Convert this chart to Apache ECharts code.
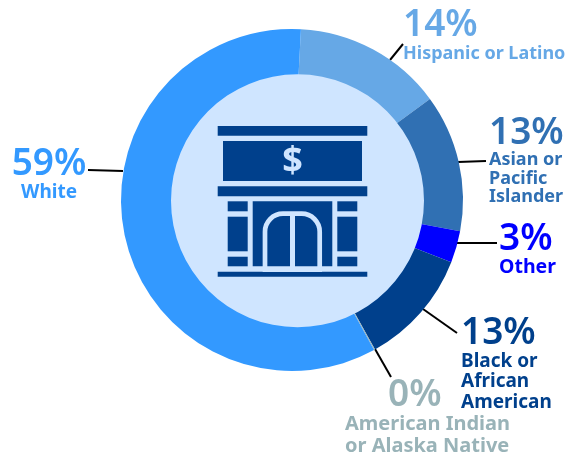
<!DOCTYPE html>
<html>
<head>
<meta charset="utf-8">
<style>
html,body{margin:0;padding:0;background:#fff;}
#chart{width:571px;height:455px;}
</style>
<script src="https://cdn.jsdelivr.net/npm/echarts@6/dist/echarts.min.js"></script>
</head>
<body>
<div id="chart"></div>
<script>
// slice sizes as drawn, these do not quite follow the printed percents
const categories=["Hispanic or Latino","Asian or\nPacific\nIslander","Other","Black or\nAfrican\nAmerican","American Indian\nor Alaska Native","White"];
const sliceValues=[14.1,13,3,11,0.1,58.8];
const printedPercents=["14%","13%","3%","13%","0%","59%"];
const colors=["#66a8e6","#3070b3","#0000ff","#00408c","#99b3b8","#3399ff"];

// label anchor, leader line and text spacing per slice
const labelSpots=[
    {x:403,y:7,align:"left",size:18,gap:21,indent:0,line:[[390,60],[403,44]]},
    {x:489,y:115,align:"left",size:18,gap:18.5,indent:0,line:[[458,162],[486,161]]},
    {x:499,y:221,align:"left",size:19.5,gap:20,indent:0,line:[[457,243],[497,243]]},
    {x:461,y:315,align:"left",size:19,gap:20.5,indent:0,line:[[423,309],[457,333]]},
    {x:345,y:377,align:"left",size:20,gap:22,indent:43,line:[[375,349],[391,377]]},
    {x:49,y:146,align:"center",size:19,gap:21,indent:0,line:[[123,171],[88,170]]}
];

const ICON="#00408c";
const PALE="#cfe5ff";

function box(x,y,width,height){
    return {type:"rect",shape:{x,y,width,height},style:{fill:ICON},z:20};
}

function labelRich(color,spot){
    return {
        p:{fontSize:37,fontWeight:600,lineHeight:36,color,padding:[0,0,0,spot.indent]},
        n:{fontSize:spot.size,fontWeight:700,lineHeight:spot.gap,color}
    };
}

const chart=echarts.init(document.getElementById("chart"));

chart.setOption({
    backgroundColor:"#ffffff",
    animation:false,
    textStyle:{fontFamily:"Noto Sans"},
    graphic:[
        box(217.7,126,149.6,9.7),
        box(223,141,139,40),
        box(217.7,186.3,149.6,10),
        box(227.7,201.3,20,10),
        box(227.7,216.7,20,34.6),
        box(227.7,256.7,20,9.6),
        box(337.3,201.3,20,10),
        box(337.3,216.7,20,34.6),
        box(337.3,256.7,20,9.6),
        box(252.7,201.3,79.6,65),
        box(217.7,271.7,149.6,5),
        {
            type:"rect",
            shape:{x:265,y:213.7,width:54.7,height:56,r:[18,18,0,0]},
            style:{fill:"none",stroke:PALE,lineWidth:4.7},
            z:21
        },
        {type:"rect",shape:{x:290,y:213,width:5,height:54},style:{fill:PALE},z:21},
        {
            type:"text",
            x:292.5,
            y:161.5,
            style:{text:"$",fontFamily:"Noto Sans",fontSize:36,fontWeight:700,fill:PALE,align:"center",verticalAlign:"middle"},
            z:21
        }
    ],
    series:[
        {
            type:"pie",
            center:[292,200],
            radius:[100,171],
            startAngle:87,
            clockwise:true,
            avoidLabelOverlap:false,
            labelLine:{show:true,lineStyle:{color:"#000000",width:2}},
            labelLayout(params){
                const spot=labelSpots[params.dataIndex];
                return {
                    x:spot.x,
                    y:spot.y,
                    align:spot.align,
                    verticalAlign:"top",
                    labelLinePoints:[spot.line[0],spot.line[1],spot.line[1]]
                };
            },
            data:categories.map((name,i)=>({
                name,
                value:sliceValues[i],
                itemStyle:{color:colors[i]},
                label:{
                    show:true,
                    position:"outside",
                    formatter:"{p|"+printedPercents[i]+"}\n"+name.split("\n").map(t=>"{n|"+t+"}").join("\n"),
                    align:labelSpots[i].align,
                    rich:labelRich(colors[i],labelSpots[i])
                }
            })),
            z:2
        },
        {
            // pale disc sits a bit off the ring centre, same as the reference
            type:"pie",
            center:[297.5,200.8],
            radius:[0,126.5],
            silent:true,
            label:{show:false},
            labelLine:{show:false},
            data:[{value:1,itemStyle:{color:PALE}}],
            z:3
        }
    ]
});
</script>
</body>
</html>
